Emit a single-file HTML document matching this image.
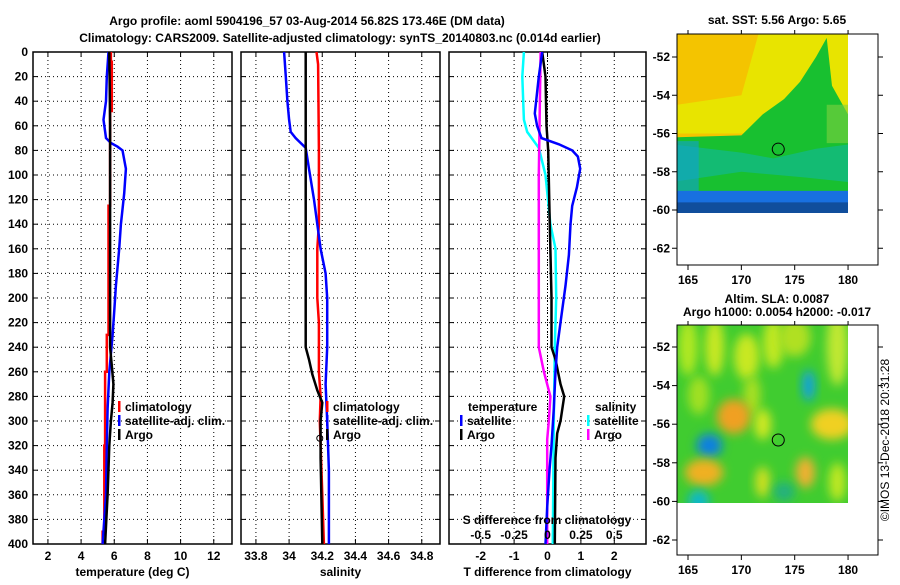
<!DOCTYPE html>
<html><head><meta charset="utf-8">
<style>
body{margin:0;background:#fff;width:900px;height:580px;overflow:hidden;font-family:"Liberation Sans",sans-serif;}
svg text{font-family:"Liberation Sans",sans-serif;font-weight:bold;font-size:12px;fill:#000}
</style></head><body>
<svg id="s" width="900" height="580">
<defs>
<filter id="bl" x="-50%" y="-50%" width="200%" height="200%"><feGaussianBlur stdDeviation="5"/></filter>
<clipPath id="c1"><rect x="677" y="34" width="171" height="179"/></clipPath>
<clipPath id="c2"><rect x="677" y="325" width="171" height="178"/></clipPath>
</defs>
<text x="307" y="25" text-anchor="middle" font-size="13">Argo profile: aoml 5904196_57 03-Aug-2014 56.82S 173.46E (DM data)</text>
<text x="340" y="42" text-anchor="middle" font-size="13">Climatology: CARS2009. Satellite-adjusted climatology: synTS_20140803.nc (0.014d earlier)</text>
<g id="g"></g>
</svg>
<script>
// ---- data ----
const depthTicks=[0,20,40,60,80,100,120,140,160,180,200,220,240,260,280,300,320,340,360,380,400];
const tTicks=[2,4,6,8,10,12];
const sTicks=[33.8,34,34.2,34.4,34.6,34.8];
const dTicks=[-2,-1,0,1,2];
const sdTicks=[-0.5,-0.25,0,0.25,0.5];
const sdTickLabels=["-0.5","-0.25","0","0.25","0.5"];
const tClimD=[0,8,8,48,48,125,125,230,230,260,260,320,320,390,390,400];
const tClimV=[5.8,5.8,5.85,5.85,5.75,5.75,5.65,5.65,5.55,5.55,5.45,5.45,5.4,5.4,5.3,5.3];
const tSatD=[0,20,40,55,70,74,77,80,95,115,140,160,190,210,230,260,290,320,360,400];
const tSatV=[5.65,5.55,5.5,5.35,5.5,5.8,6.2,6.5,6.7,6.6,6.4,6.3,6.1,6.0,5.9,5.7,5.6,5.55,5.5,5.3];
const tArgD=[0,20,60,100,200,240,255,270,285,300,320,360,400];
const tArgV=[5.7,5.72,5.75,5.75,5.75,5.75,5.85,5.95,5.9,5.8,5.7,5.6,5.45];
const sClimD=[0,10,80,140,160,200,220,260,280,300,360,400];
const sClimV=[34.165,34.175,34.18,34.18,34.17,34.17,34.18,34.18,34.19,34.185,34.2,34.21];
const sSatD=[0,20,40,55,65,70,78,95,120,140,160,180,200,240,270,300,340,400];
const sSatV=[33.97,33.98,33.99,34.0,34.01,34.04,34.1,34.12,34.15,34.17,34.19,34.22,34.23,34.23,34.22,34.23,34.24,34.24];
const sArgD=[0,100,240,250,262,275,285,300,315,330,400];
const sArgV=[34.1,34.1,34.1,34.12,34.14,34.17,34.2,34.19,34.19,34.19,34.2];
const dtSatD=[0,20,50,60,70,75,80,85,95,110,125,140,165,190,220,240,260,290,320,340,370,400];
const dtSatV=[-0.16,-0.26,-0.38,-0.31,-0.18,0.34,0.74,0.91,0.98,0.88,0.74,0.69,0.64,0.54,0.39,0.29,0.24,0.19,0.12,0.06,-0.01,-0.06];
const dtArgD=[0,20,60,80,130,200,240,250,270,280,300,310,330,400];
const dtArgV=[-0.16,-0.06,-0.03,0.02,0.06,0.12,0.12,0.24,0.39,0.5,0.39,0.29,0.24,0.22];
const dsSatD=[0,20,55,65,78,100,140,160,200,240,300,400];
const dsSatV=[-0.177,-0.189,-0.177,-0.152,-0.065,-0.015,0.022,0.06,0.065,0.055,0.047,0.04];
const dsArgD=[0,100,200,240,260,280,300,315,400];
const dsArgV=[-0.052,-0.065,-0.065,-0.065,-0.027,0.022,0.01,-0.002,-0.002];
const lonTicks=[165,170,175,180];
const latTicks=[-52,-54,-56,-58,-60,-62];
const argoLon=173.46, argoLat=-56.82;

const NS="http://www.w3.org/2000/svg";
const G=document.getElementById('g');
function mk(tag,at,parent){const e=document.createElementNS(NS,tag);for(const k in at)e.setAttribute(k,at[k]);(parent||G).appendChild(e);return e;}
const Y0=52,Y1=544;
const yD=d=>Y0+(d/400)*(Y1-Y0);

function panel(name,x0,x1,lo,hi,ticks,labels,title){
  const xs=v=>x0+(v-lo)/(hi-lo)*(x1-x0);
  const g=mk('g',{});
  
  
  depthTicks.forEach((d,i)=>{
    if(d>0&&d<400){const l=mk('line',{x1:x0,x2:x1,y1:yD(d),y2:yD(d),stroke:'#000','stroke-dasharray':'1,3','stroke-width':1},g);
    }
    mk('line',{x1:x0,x2:x0+5,y1:yD(d),y2:yD(d),stroke:'#000'},g);
    mk('line',{x1:x1,x2:x1-5,y1:yD(d),y2:yD(d),stroke:'#000'},g);
  });
  ticks.forEach((v,i)=>{
    const X=xs(v);
    const l=mk('line',{x1:X,x2:X,y1:Y0,y2:Y1,stroke:'#000','stroke-dasharray':'1,3'},g);
    
    mk('line',{x1:X,x2:X,y1:Y1,y2:Y1-5,stroke:'#000'},g);
    mk('line',{x1:X,x2:X,y1:Y0,y2:Y0+5,stroke:'#000'},g);
    const t=mk('text',{x:X,y:560,'text-anchor':'middle'},g);t.textContent=labels[i];
    
  });
  const r=mk('rect',{x:x0,y:Y0,width:x1-x0,height:Y1-Y0,fill:'none',stroke:'#000','stroke-width':1.5},g);
  
  const t=mk('text',{x:(x0+x1)/2,y:576,'text-anchor':'middle'},g);t.textContent=title;
  
  return xs;
}
function line(xs,D,V,color,name,w){
  const p=mk('polyline',{points:D.map((d,i)=>xs(V[i]).toFixed(1)+','+yD(d).toFixed(1)).join(' '),fill:'none',stroke:color,'stroke-width':w||2.5});
  
  
}
function legend(x,y,color,label,name){
  const b=mk('rect',{x:x,y:y-10,width:2.5,height:11,fill:color});
  
  const t=mk('text',{x:x+7,y:y});t.textContent=label;
  
}
depthTicks.forEach(d=>{const t=mk('text',{x:28,y:yD(d)+4,'text-anchor':'end'});t.textContent=d;
});

const xT=panel('temperature-panel',33,232,1.1,13.1,tTicks,tTicks.map(String),'temperature (deg C)');
line(xT,tClimD,tClimV,'#f00','temperature-climatology-line');
line(xT,tSatD,tSatV,'#00f','temperature-satellite-line');
line(xT,tArgD,tArgV,'#000','temperature-argo-line');
legend(118,411,'#f00','climatology','legend-climatology');
legend(118,425,'#00f','satellite-adj. clim.','legend-satellite');
legend(118,439,'#000','Argo','legend-argo');

const xS=panel('salinity-panel',241,440,33.71,34.91,sTicks,['33.8','34','34.2','34.4','34.6','34.8'],'salinity');
line(xS,sClimD,sClimV,'#f00','salinity-climatology-line');
line(xS,sSatD,sSatV,'#00f','salinity-satellite-line');
line(xS,sArgD,sArgV,'#000','salinity-argo-line');
mk('circle',{cx:xS(34.185),cy:yD(314),r:3,fill:'none',stroke:'#000'});
legend(326,411,'#f00','climatology','legend-s-climatology');
legend(326,425,'#00f','satellite-adj. clim.','legend-s-satellite');
legend(326,439,'#000','Argo','legend-s-argo');

const xD=panel('difference-panel',449,646,-2.95,2.95,dTicks,dTicks.map(String),'T difference from climatology');
const xSD=v=>xD(v*4);
mk('line',{x1:xD(0),x2:xD(0),y1:Y0,y2:Y1,stroke:'#000','stroke-dasharray':'1,2'});
line(xSD,dsSatD,dsSatV,'#0ff','s-diff-satellite-line');
line(xSD,dsArgD,dsArgV,'#f0f','s-diff-argo-line');
line(xD,dtArgD,dtArgV,'#000','t-diff-argo-line');
line(xD,dtSatD,dtSatV,'#00f','t-diff-satellite-line');
{const t=mk('text',{x:468,y:411});t.textContent='temperature';}
legend(460,425,'#00f','satellite','legend-t-satellite');
legend(460,439,'#000','Argo','legend-t-argo');
{const t=mk('text',{x:595,y:411});t.textContent='salinity';}
legend(587,425,'#0ff','satellite','legend-sal-satellite');
legend(587,439,'#f0f','Argo','legend-sal-argo');
{const t=mk('text',{x:547,y:524,'text-anchor':'middle'});t.textContent='S difference from climatology';
}
sdTicks.forEach((v,i)=>{const t=mk('text',{x:xSD(v),y:539,'text-anchor':'middle'});t.textContent=sdTickLabels[i];
});

function mapAxes(name,top,bottom,latTop,pxPerLat,title1,title2){
  const xL=lon=>688+(lon-165)*10.67;
  const yL=lat=>latTop+(-52-lat)*pxPerLat;
  return {xL,yL,finish:()=>{
    const r=mk('rect',{x:677,y:top,width:201,height:bottom-top,fill:'none',stroke:'#000','stroke-width':1});
    
    lonTicks.forEach(l=>{mk('line',{x1:xL(l),x2:xL(l),y1:bottom,y2:bottom+5,stroke:'#000'});mk('line',{x1:xL(l),x2:xL(l),y1:top,y2:top-4,stroke:'#000'});
      const t=mk('text',{x:xL(l),y:bottom+19,'text-anchor':'middle'});t.textContent=l;
      });
    latTicks.forEach(l=>{mk('line',{x1:672,x2:677,y1:yL(l),y2:yL(l),stroke:'#000'});mk('line',{x1:878,x2:883,y1:yL(l),y2:yL(l),stroke:'#000'});
      const t=mk('text',{x:670,y:yL(l)+4,'text-anchor':'end'});t.textContent=l;
      });
    mk('circle',{cx:xL(argoLon),cy:yL(argoLat),r:6,fill:'none',stroke:'#000'});
    const t1=mk('text',{x:777,y:title2?top-22:top-10,'text-anchor':'middle'});t1.textContent=title1;
    
    if(title2){const t2=mk('text',{x:777,y:top-9,'text-anchor':'middle'});t2.textContent=title2;
      }
  }};
}
const m1=mapAxes('sst-map',34,265,57,19.125,'sat. SST: 5.56 Argo: 5.65');
{
  const g=mk('g',{'clip-path':'url(#c1)'});
  const P=pts=>pts.map(p=>m1.xL(p[0]).toFixed(1)+','+m1.yL(p[1]).toFixed(1)).join(' ');
  mk('rect',{x:677,y:34,width:171,height:180,fill:'#f4c400'},g);
  mk('polygon',{points:P([[172,-50],[181,-50],[181,-56],[164,-56],[164,-54.5],[170,-54]]),fill:'#e8e400'},g);
  mk('polygon',{points:P([[164,-56.2],[170,-56.1],[172,-55],[174,-54.2],[175.5,-53.3],[177,-52],[178,-51],[178.5,-53.5],[180,-55],[181,-56],[181,-61],[164,-61]]),fill:'#18c030'},g);
  mk('polygon',{points:P([[164,-56.6],[170,-57],[173,-57.3],[177,-56.8],[181,-56.5],[181,-58.6],[176,-58.3],[170,-58],[164,-58.5]]),fill:'#10b8a0',opacity:0.6},g);
  mk('polygon',{points:P([[164,-56.4],[166,-56.4],[166,-61],[164,-61]]),fill:'#10a0d0',opacity:0.6},g);
  mk('polygon',{points:P([[164,-59],[181,-59],[181,-61],[164,-61]]),fill:'#1870e0'},g);
  mk('polygon',{points:P([[164,-59.6],[181,-59.6],[181,-61],[164,-61]]),fill:'#000',opacity:0.3},g);
  mk('polygon',{points:P([[178,-54.5],[181,-54.5],[181,-56.5],[178,-56.5]]),fill:'#80d040',opacity:0.6},g);
}
m1.finish();
const m2=mapAxes('sla-map',325,555,347,19.3,'Altim. SLA: 0.0087','Argo h1000: 0.0054 h2000: -0.017');
{
  const g=mk('g',{'clip-path':'url(#c2)'});
  mk('rect',{x:677,y:325,width:171,height:178,fill:'#40cc30'},g);
  const blobs=[[165,-52,0.9,1.5,'#b0e820'],[167.5,-52,0.9,1.5,'#c8e820'],[170.5,-52.5,1.2,1.2,'#c8e820'],[173,-51.8,1,1.3,'#c0e820'],[175,-51.5,1.5,1,'#b0e020'],[179,-52,1,2,'#c0e830'],[166,-54.5,1,1,'#a0e020'],[171,-54.5,0.8,1,'#a8e020'],
  [169.3,-55.6,1.6,0.9,'#f0a020'],[167,-57.1,1.2,0.6,'#0880e0'],[166.5,-58.5,1.8,0.7,'#f0b020'],[176.3,-54,0.6,0.8,'#10a0e0'],
  [178.5,-56,2,0.8,'#f0d020'],[176,-58.5,0.9,0.8,'#f0b030'],[166,-60,1,0.6,'#10b8c8'],[172,-56,0.8,0.8,'#d0e820'],[172,-59,0.7,0.8,'#d0e020'],[179,-59,0.8,1,'#c0e820'],[174,-59.5,1,0.5,'#20b080']];
  blobs.forEach(b=>mk('ellipse',{cx:m2.xL(b[0]),cy:m2.yL(b[1]),rx:b[2]*10.67,ry:b[3]*19.3,fill:b[4],filter:'url(#bl)'},g));
}
m2.finish();
{const t=mk('text',{x:0,y:0,transform:'translate(889,440) rotate(-90)','text-anchor':'middle'});
t.textContent='©IMOS 13-Dec-2018 20:31:28';t.style.fontWeight='normal';
}
</script>
</body></html>
